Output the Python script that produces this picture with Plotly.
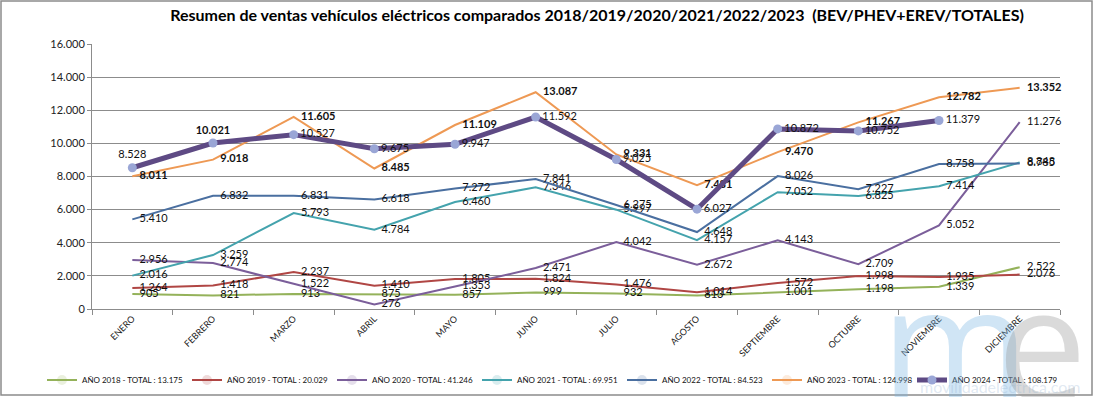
import plotly.graph_objects as go

months = ["ENERO", "FEBRERO", "MARZO", "ABRIL", "MAYO", "JUNIO", "JULIO",
          "AGOSTO", "SEPTIEMBRE", "OCTUBRE", "NOVIEMBRE", "DICIEMBRE"]

v2018 = [905, 821, 913, 875, 857, 999, 932, 813, 1001, 1198, 1339, 2522]
v2019 = [1264, 1418, 2237, 1410, 1805, 1824, 1476, 1014, 1572, 1998, 1935, 2076]
v2020 = [2956, 2774, 1522, 276, 1353, 2471, 4042, 2672, 4143, 2709, 5052, 11276]
v2021 = [2016, 3259, 5793, 4784, 6460, 7346, 5997, 4157, 7052, 6825, 7414, 8848]
v2022 = [5410, 6832, 6831, 6618, 7272, 7841, 6275, 4648, 8026, 7227, 8758, 8785]
v2023 = [8011, 9018, 11605, 8485, 11109, 13087, 9331, 7481, 9470, 11267, 12782, 13352]
v2024 = [8528, 10021, 10527, 9675, 9947, 11592, 9025, 6027, 10872, 10752, 11379]

legend_names = ["AÑO 2018 - TOTAL : 13.175", "AÑO 2019 - TOTAL : 20.029",
                "AÑO 2020 - TOTAL : 41.246", "AÑO 2021 - TOTAL : 69.951",
                "AÑO 2022 - TOTAL : 84.523", "AÑO 2023 - TOTAL : 124.998",
                "AÑO 2024 - TOTAL : 108.179"]

colors = ["#94B25A", "#B04644", "#7B5E9A", "#44A3AD", "#4A6FA0", "#EE9954", "#5E4A84"]

FONT = "Lato, 'Open Sans', sans-serif"


def fmt(v):
    return f"{v:,}".replace(",", ".")


fig = go.Figure()

series = [v2018, v2019, v2020, v2021, v2022, v2023]
for i, vals in enumerate(series):
    bold = (i == 5)
    texts = [f"<b>{fmt(v)}</b>" if bold else fmt(v) for v in vals]
    fig.add_trace(go.Scatter(
        x=months[:len(vals)], y=vals, name=legend_names[i],
        mode="lines+markers+text",
        line=dict(color=colors[i], width=2),
        marker=dict(size=10, opacity=0, color=colors[i]),
        text=texts, textposition="middle right",
        textfont=dict(family=FONT, size=11, color="#111111"),
        cliponaxis=False, hoverinfo="skip",
    ))

texts24 = [fmt(v) for v in v2024]
texts24[1] = f"<b>{texts24[1]}</b>"
pos24 = ["top center", "top center"] + ["middle right"] * (len(v2024) - 2)
fig.add_trace(go.Scatter(
    x=months[:len(v2024)], y=v2024, name=legend_names[6],
    mode="lines+markers+text",
    line=dict(color=colors[6], width=5),
    marker=dict(size=9, color="#9AA6D6"),
    text=texts24, textposition=pos24,
    textfont=dict(family=FONT, size=11, color="#111111"),
    cliponaxis=False, hoverinfo="skip",
))

W, H = 1094, 397
L, R, T, B = 92, 34, 44, 88
pw, ph = W - L - R, H - T - B


def px_x(x):
    return (x - L) / pw


def px_y(y):
    return (H - B - y) / ph


fig.update_layout(
    width=W, height=H,
    margin=dict(l=L, r=R, t=T, b=B, autoexpand=False),
    paper_bgcolor="white", plot_bgcolor="white",
    separators=",.",
    font=dict(family=FONT, color="#222222"),
    showlegend=True,
    legend=dict(orientation="h", x=px_x(42), xanchor="left",
                y=px_y(380), yanchor="middle",
                font=dict(family=FONT, size=8, color="#111111"),
                itemwidth=30, entrywidth=100, entrywidthmode="pixels",
                tracegroupgap=0, bgcolor="rgba(0,0,0,0)"),
    title=dict(text="Resumen de ventas vehículos eléctricos comparados 2018/2019/2020/2021/2022/2023\u00a0\u00a0(BEV/PHEV+EREV/TOTALES)",
               x=597 / W, xanchor="center", y=1 - 15 / H, yanchor="middle",
               font=dict(family=FONT, size=16, color="#000000", weight="bold")),
    xaxis=dict(type="category", categoryorder="array", categoryarray=months,
               range=[-0.5, 11.5], showgrid=False, showline=True,
               linecolor="#8C8C8C", linewidth=1, ticks="outside",
               tickson="boundaries", ticklen=5, tickcolor="#8C8C8C",
               tickangle=-45, tickfont=dict(family=FONT, size=9, color="#222222")),
    yaxis=dict(range=[0, 16000], dtick=2000, tickformat=",d",
               showgrid=True, gridcolor="#8C8C8C", gridwidth=1,
               showline=True, linecolor="#8C8C8C", linewidth=1,
               ticks="outside", ticklen=4, tickcolor="#8C8C8C",
               zeroline=False,
               tickfont=dict(family=FONT, size=11, color="#222222")),
    shapes=[dict(type="rect", xref="paper", yref="paper",
                 x0=px_x(1), x1=px_x(1092), y0=px_y(395), y1=px_y(1),
                 line=dict(color="#8C8C8C", width=1.5), fillcolor="rgba(0,0,0,0)",
                 layer="below")],
    annotations=[
        dict(text="m", xref="paper", yref="paper", x=px_x(955), y=px_y(340),
             xanchor="center", yanchor="middle", showarrow=False,
             font=dict(family="Open Sans, sans-serif", size=160, color="rgba(120,180,225,0.35)")),
        dict(text="e", xref="paper", yref="paper", x=px_x(1042), y=px_y(340),
             xanchor="center", yanchor="middle", showarrow=False,
             font=dict(family="Open Sans, sans-serif", size=160, color="rgba(150,150,150,0.35)")),
        dict(text="movilidadelectrica.com", xref="paper", yref="paper",
             x=px_x(1000), y=px_y(386), xanchor="center", yanchor="middle",
             showarrow=False,
             font=dict(family=FONT, size=16, color="rgba(150,180,210,0.3)")),
    ],
)

fig.write_html("out.html", config={"displayModeBar": False},
               post_script="document.body.style.margin='0';")
